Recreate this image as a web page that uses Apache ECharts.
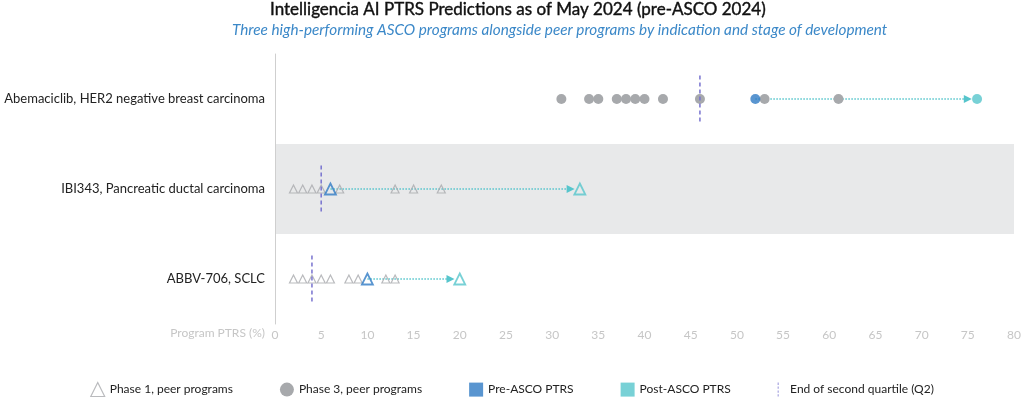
<!DOCTYPE html>
<html>
<head>
<meta charset="utf-8">
<script src="https://cdn.jsdelivr.net/npm/echarts@6/dist/echarts.min.js"></script>
<style>
  html, body { margin: 0; padding: 0; background: #fff; }
  #chart-panel { width: 1024px; height: 397px; }
</style>
</head>
<body>
<div id="chart-panel"></div>
<script>
// rows, top to bottom
var categories = ['Abemaciclib, HER2 negative breast carcinoma', 'IBI343, Pancreatic ductal carcinoma', 'ABBV-706, SCLC'];
// peer programs per row (row 0 = phase 3 peers, rows 1/2 = phase 1 peers)
var phase3Peers = [31, 34, 35, 37, 38, 39, 40, 42, 46, 53, 61];
var phase1PeersIBI = [2, 3, 4, 5, 7, 13, 15, 18];
var phase1PeersABBV = [2, 3, 4, 5, 6, 8, 9, 12, 13];
var preAsco = [52, 6, 10];
var postAsco = [76, 33, 20];
var medianQ2 = [46, 5, 4];
var xTicks = [0, 5, 10, 15, 20, 25, 30, 35, 40, 45, 50, 55, 60, 65, 70, 75, 80];

var GRAY = '#a7a9ac', BLUE = '#2f7bc4', CYAN = '#56c5cc', MED = '#7873cf';
var FONT = 'Lato';

var myChart = echarts.init(document.getElementById('chart-panel'));

var phase1Data = phase1PeersIBI.map(function (v) { return [v, 1]; })
    .concat(phase1PeersABBV.map(function (v) { return [v, 2]; }));

function ascoPoint(v, i, color) {
    if (i === 0) {
        return { value: [v, i], symbol: 'circle', symbolSize: 10, itemStyle: { color: color } };
    }
    return { value: [v, i], symbol: 'triangle', symbolSize: 11,
        itemStyle: { color: 'rgba(0,0,0,0)', borderColor: color, borderWidth: 1.8 } };
}

var dashIcon = 'path://M10,0h1v3h-1z M10,5h1v3h-1z M10,10h1v3h-1z M10,15h1v3h-1z';

var option = {
    textStyle: { fontFamily: FONT },
    title: [{
        text: 'Intelligencia AI PTRS Predictions as of May 2024 (pre-ASCO 2024)',
        left: 270,
        top: 1,
        padding: 0,
        textStyle: { fontFamily: FONT, fontSize: 17, fontWeight: 'normal', color: '#111',
            textBorderColor: '#111', textBorderWidth: 0.4 }
    }, {
        text: 'Three high-performing ASCO programs alongside peer programs by indication and stage of development',
        left: 232,
        top: 23,
        padding: 0,
        textStyle: { fontFamily: FONT, fontSize: 15.3, fontStyle: 'italic', fontWeight: 'normal', color: '#3b88c8' }
    }],
    legend: {
        left: 'center',
        top: 377,
        itemGap: 47,
        itemWidth: 14,
        itemHeight: 14,
        textStyle: { fontFamily: FONT, fontSize: 12, color: '#222' },
        data: [
            { name: 'Phase 1, peer programs', icon: 'triangle',
              itemStyle: { color: 'rgba(0,0,0,0)', borderColor: GRAY, borderWidth: 1.2 } },
            { name: 'Phase 3, peer programs', icon: 'circle', itemStyle: { color: GRAY } },
            { name: 'Pre-ASCO PTRS', icon: 'rect', itemStyle: { color: BLUE } },
            { name: 'Post-ASCO PTRS', icon: 'rect', itemStyle: { color: CYAN } },
            { name: 'End of second quartile (Q2)', icon: dashIcon, itemStyle: { color: MED } }
        ]
    },
    grid: { left: 275, right: 10, top: 54, bottom: 73 },
    xAxis: {
        type: 'value',
        min: xTicks[0],
        max: xTicks[xTicks.length - 1],
        interval: 5,
        axisLine: { show: false },
        axisTick: { show: false },
        splitLine: { show: false },
        axisLabel: { color: '#c6c6c6', fontSize: 12, margin: 5 }
    },
    yAxis: {
        type: 'category',
        data: categories,
        inverse: true,
        axisTick: { show: false },
        axisLine: { show: true, lineStyle: { color: '#cfcfcf' } },
        axisLabel: { color: '#222', fontSize: 13, margin: 10 },
        splitArea: { show: true, areaStyle: { color: ['rgba(0,0,0,0)', '#e8e9ea'] } }
    },
    graphic: [{
        type: 'text',
        right: 759,
        top: 327,
        style: { text: 'Program PTRS (%)', fill: '#c6c6c6', fontSize: 12, fontFamily: FONT }
    }],
    series: [
        {
            name: 'arrows',
            type: 'lines',
            coordinateSystem: 'cartesian2d',
            symbol: ['none', 'triangle'],
            symbolSize: 8,
            z: 1,
            lineStyle: { color: CYAN, type: 'dotted', width: 1.5, opacity: 1 },
            data: preAsco.map(function (v, i) {
                return { coords: [[v, i], [postAsco[i] - 1, i]] };
            })
        },
        {
            name: 'Phase 1, peer programs',
            type: 'scatter',
            symbol: 'triangle',
            symbolSize: 8,
            z: 2,
            itemStyle: { color: 'rgba(0,0,0,0)', borderColor: GRAY, borderWidth: 1.2 },
            data: phase1Data
        },
        {
            name: 'Phase 3, peer programs',
            type: 'scatter',
            symbol: 'circle',
            symbolSize: 10,
            z: 2,
            itemStyle: { color: GRAY, opacity: 1 },
            data: phase3Peers.map(function (v) { return [v, 0]; })
        },
        {
            name: 'Pre-ASCO PTRS',
            type: 'scatter',
            z: 3,
            itemStyle: { color: BLUE },
            data: preAsco.map(function (v, i) { return ascoPoint(v, i, BLUE); })
        },
        {
            name: 'Post-ASCO PTRS',
            type: 'scatter',
            z: 3,
            itemStyle: { color: CYAN },
            data: postAsco.map(function (v, i) { return ascoPoint(v, i, CYAN); })
        },
        {
            name: 'End of second quartile (Q2)',
            type: 'custom',
            z: 4,
            itemStyle: { color: MED },
            encode: { x: 0, y: 1 },
            renderItem: function (params, api) {
                var p = api.coord([api.value(0), api.value(1)]);
                var h = api.size([0, 1])[1];
                return {
                    type: 'line',
                    shape: { x1: p[0], y1: p[1] - h * 0.26, x2: p[0], y2: p[1] + h * 0.26 },
                    style: { stroke: MED, lineWidth: 1.5, lineDash: [4, 3] }
                };
            },
            data: medianQ2.map(function (v, i) { return [v, i]; })
        }
    ]
};
myChart.setOption(option);
</script>
</body>
</html>
